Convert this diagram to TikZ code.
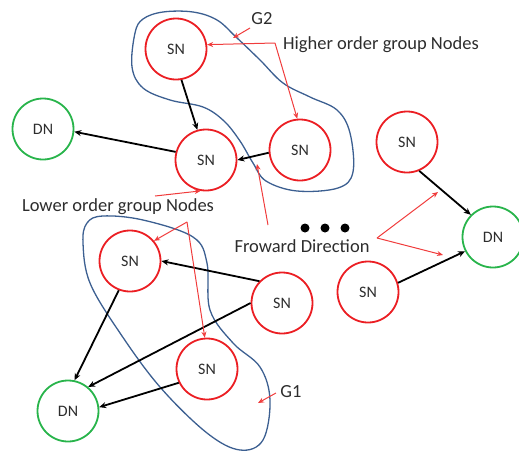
\documentclass[tikz,border=0pt]{standalone}
\usepackage{fontspec}
\setmainfont{Carlito}
\usetikzlibrary{arrows.meta}
\definecolor{snred}{RGB}{235,30,35}
\definecolor{dngreen}{RGB}{40,180,75}
\definecolor{grpblue}{RGB}{60,95,145}
\definecolor{txtgray}{RGB}{45,45,45}
\definecolor{notered}{RGB}{240,60,60}
\tikzset{
  sensor/.style={circle, draw=snred, line width=1.8pt, minimum size=61pt, inner sep=0pt,
    text=txtgray, font=\fontsize{16}{18}\selectfont},
  dest/.style={sensor, draw=dngreen},
  link/.style={line width=1.8pt, black, -{Stealth[length=7pt,width=6pt]}},
  group/.style={grpblue, line width=1.3pt},
  note/.style={notered, line width=1pt, -{Stealth[length=6pt,width=5pt]}},
  label/.style={text=txtgray, font=\fontsize{18.5}{20}\selectfont, inner sep=0pt},
}
\begin{document}
\begin{tikzpicture}[x=1pt, y=-1pt]
\useasboundingbox (0,0) rectangle (519,453);

% group outlines
\draw[group] plot[smooth cycle, tension=0.6] coordinates {
  (135,33) (132,67) (143,88) (170,100) (203,107) (224,121) (240,141) (253,163)
  (266,181) (297,191) (338,188) (353,172) (350,133) (337,110) (310,97) (283,83)
  (260,60) (236,37) (217,20) (193,12) (163,12) (143,19)};
\draw[group] plot[smooth cycle, tension=0.6] coordinates {
  (87,223) (103,216) (143,220) (193,237) (207,263) (210,310) (233,343) (260,367)
  (270,400) (263,440) (240,450) (207,433) (160,387) (120,333) (90,283) (83,243)};

% nodes
\node[sensor] (snt)  at (176,49)  {SN};
\node[sensor] (snc)  at (206,160) {SN};
\node[sensor] (snr)  at (300,150) {SN};
\node[dest]   (dnl)  at (43,129)  {DN};
\node[sensor] (sntr) at (407,142) {SN};
\node[dest]   (dnr)  at (493,237) {DN};
\node[sensor] (snbr) at (368,292) {SN};
\node[sensor] (g1l)  at (130,261) {SN};
\node[sensor] (g1r)  at (282,303) {SN};
\node[sensor] (g1b)  at (207,369) {SN};
\node[dest]   (dnb)  at (68,411)  {DN};

% links
\draw[link] (snt.280) -- (snc.106);
\draw[link] (snr.185) -- (snc.east);
\draw[link] (snc.165) -- (dnl.-5);
\draw[link] (sntr.-67) -- (dnr.135);
\draw[link] (snbr.17) -- (dnr.207);
\draw[link] (g1r.136) -- (g1l.east);
\draw[link] (g1r.west) -- (dnb.50);
\draw[link] (g1l.249) -- (dnb.78);
\draw[link] (g1b.206) -- (dnb.7);

% ellipsis dots
\foreach \px/\nm in {305/da, 325/db, 345/dc}
  \fill (\px,228) circle (4.5pt) coordinate (\nm);

% annotation labels
\node[label] (g2lab) at (262,19) {G2};
\node[label, anchor=west] (hilab) at (283,45) {Higher order group Nodes};
\node[label] (lolab) at (118,207) {Lower order group Nodes};
\node[label] (fwlab) at (302,246) {Froward Direction};
\node[label] (g1lab) at (291,392) {G1};

% annotation arrow points
\coordinate (g2from) at (250,28);
\coordinate (g2tip)  at (233,38);
\coordinate (hic)    at (275,43);
\coordinate (lofrom) at (155,196);
\coordinate (loc)    at (187,222);
\coordinate (fwup)   at (268,225);
\coordinate (fwtip)  at (257,164);
\coordinate (fwc)    at (377,238);
\coordinate (fwa)    at (438,192);
\coordinate (fwb)    at (443,255);
\coordinate (g1from) at (276,393);
\coordinate (g1tip)  at (258,403);

% annotation arrows
\draw[note] (g2from) -- (g2tip);
\draw[note] (hic) -- (snt.8);
\draw[note] (hic) -- (snr.95);
\draw[note] (lofrom) -- (snc.260);
\draw[note] (loc) -- (g1l.40);
\draw[note] (loc) -- (g1b.94);
\draw[note] (fwup) -- (fwtip);
\draw[note] (fwc) -- (fwa);
\draw[note] (fwc) -- (fwb);
\draw[note] (g1from) -- (g1tip);
\end{tikzpicture}
\end{document}
